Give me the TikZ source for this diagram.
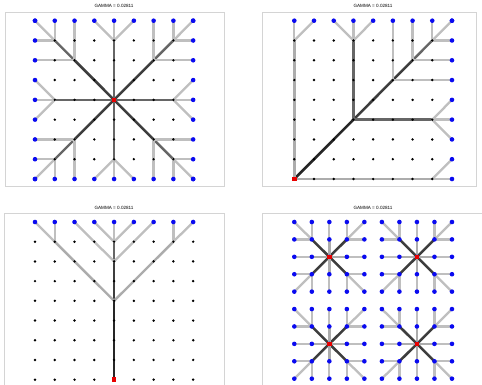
\documentclass[tikz,border=0pt]{standalone}
\usepackage{fontspec}
\setmainfont{Liberation Sans}
\usetikzlibrary{calc}
\definecolor{Sink}{HTML}{0A0AF0}
\definecolor{Source}{HTML}{E80000}
\definecolor{Frame}{HTML}{D4D4D4}
\tikzset{
  grid dot/.style={circle,fill=black,inner sep=0pt,minimum size=2.7pt},
  sink dot/.style={circle,fill=Sink,inner sep=0pt,minimum size=4.6pt},
  source dot/.style={rectangle,fill=Source,inner sep=0pt,minimum size=4.4pt},
  flow one/.style={line width=2.3pt,gray!50,line cap=round},
  flow two/.style={line width=2.4pt,gray!65,line cap=round},
  flow three/.style={line width=2.4pt,black!60,line cap=round},
  flow five/.style={line width=2.5pt,black!76,line cap=round},
  flow many/.style={line width=2.6pt,black!85,line cap=round},
  panel/.style={Frame,line width=0.9pt},
  gamma/.style={font=\fontsize{4.6}{5}\selectfont}
}

\begin{document}
\begin{tikzpicture}[x=1pt,y=-1pt]
  \useasboundingbox (0,0) rectangle (482,385);
  \foreach \c in {0,...,8}
    \foreach \r in {0,...,8}{
      \coordinate (a-\c-\r) at ({35+19.77*\c},{20.7+19.79*\r});
      \coordinate (b-\c-\r) at ({294.3+19.71*\c},{20.7+19.79*\r});
      \coordinate (c-\c-\r) at ({35+19.77*\c},{222+19.71*\r});
    }
  \foreach \c in {0,...,9}
    \foreach \r in {0,...,9}
      \coordinate (d-\c-\r) at ({294.3+17.52*\c},{222+17.41*\r});

  \draw[panel] (5,12.7) rectangle (224,186.7);
  \draw[panel] (262.7,12.7) rectangle (476,186.7);
  \draw[panel] (4.3,213.7) rectangle (224,392);
  \draw[panel] (262.7,213.7) rectangle (490,392);
  \node[gamma] (title-a) at (114,6) {GAMMA = 0.02811};
  \node[gamma] (title-b) at (373,6) {GAMMA = 0.02811};
  \node[gamma] (title-c) at (114,207.5) {GAMMA = 0.02811};
  \node[gamma] (title-d) at (373,207.5) {GAMMA = 0.02811};

  % star from the centre
  \foreach \u/\v in {a-4-4/a-2-2,a-4-4/a-6-2,a-4-4/a-2-6,a-4-4/a-6-6}
    \draw[flow five] (\u) -- (\v);
  \foreach \u/\v in {a-2-2/a-1-1,a-6-2/a-7-1,a-2-6/a-1-7,a-6-6/a-7-7,
                     a-4-4/a-4-1,a-4-4/a-4-7,a-4-4/a-1-4,a-4-4/a-7-4}
    \draw[flow three] (\u) -- (\v);
  \foreach \u/\v in {a-1-1/a-0-0,a-1-1/a-1-0,a-1-1/a-0-1,a-2-2/a-2-0,a-2-2/a-0-2,
                     a-7-1/a-8-0,a-7-1/a-7-0,a-7-1/a-8-1,a-6-2/a-6-0,a-6-2/a-8-2,
                     a-1-7/a-0-8,a-1-7/a-1-8,a-1-7/a-0-7,a-2-6/a-2-8,a-2-6/a-0-6,
                     a-7-7/a-8-8,a-7-7/a-7-8,a-7-7/a-8-7,a-6-6/a-6-8,a-6-6/a-8-6,
                     a-4-1/a-3-0,a-4-1/a-4-0,a-4-1/a-5-0,a-4-7/a-3-8,a-4-7/a-4-8,a-4-7/a-5-8,
                     a-1-4/a-0-3,a-1-4/a-0-4,a-1-4/a-0-5,a-7-4/a-8-3,a-7-4/a-8-4,a-7-4/a-8-5}
    \draw[flow one] (\u) -- (\v);

  % from the corner
  \draw[flow many] (b-0-8) -- (b-3-5);
  \foreach \u/\v in {b-3-5/b-5-3,b-5-3/b-6-2}
    \draw[flow five] (\u) -- (\v);
  \foreach \u/\v in {b-3-5/b-3-1,b-3-5/b-7-5,b-6-2/b-7-1}
    \draw[flow three] (\u) -- (\v);
  \foreach \u/\v in {b-0-8/b-0-1,b-0-8/b-7-8}
    \draw[flow two] (\u) -- (\v);
  \foreach \u/\v in {b-0-1/b-0-0,b-0-1/b-1-0,b-7-8/b-8-8,b-7-8/b-8-7,
                     b-3-1/b-2-0,b-3-1/b-3-0,b-3-1/b-4-0,b-7-5/b-8-4,b-7-5/b-8-5,b-7-5/b-8-6,
                     b-5-3/b-5-0,b-5-3/b-8-3,b-6-2/b-6-0,b-6-2/b-8-2,
                     b-7-1/b-7-0,b-7-1/b-8-1,b-7-1/b-8-0}
    \draw[flow one] (\u) -- (\v);

  % from the bottom
  \draw[flow many] (c-4-8) -- (c-4-4);
  \draw[flow five] (c-4-4) -- (c-4-2);
  \draw[flow three] (c-4-2) -- (c-4-1);
  \foreach \u/\v in {c-4-4/c-1-1,c-4-4/c-7-1}
    \draw[flow two] (\u) -- (\v);
  \foreach \u/\v in {c-1-1/c-0-0,c-1-1/c-1-0,c-7-1/c-8-0,c-7-1/c-7-0,c-4-2/c-2-0,c-4-2/c-6-0,
                     c-4-1/c-3-0,c-4-1/c-4-0,c-4-1/c-5-0}
    \draw[flow one] (\u) -- (\v);

  % four small stars
  \foreach \ox/\oy in {0/0,5/0,0/5,5/5}{
    \foreach \i/\j/\k/\l in {2/2/1/1,2/2/3/1,2/2/1/3,2/2/3/3}{
      \pgfmathtruncatemacro\p{\ox+\i}\pgfmathtruncatemacro\q{\oy+\j}
      \pgfmathtruncatemacro\s{\ox+\k}\pgfmathtruncatemacro\t{\oy+\l}
      \draw[flow five] (d-\p-\q) -- (d-\s-\t);
    }
    \foreach \i/\j/\k/\l in {2/2/1/2,2/2/3/2,2/2/2/1,2/2/2/3}{
      \pgfmathtruncatemacro\p{\ox+\i}\pgfmathtruncatemacro\q{\oy+\j}
      \pgfmathtruncatemacro\s{\ox+\k}\pgfmathtruncatemacro\t{\oy+\l}
      \draw[flow two] (d-\p-\q) -- (d-\s-\t);
    }
    \foreach \i/\j/\k/\l in {1/2/0/2,3/2/4/2,2/1/2/0,2/3/2/4,
                             1/1/0/0,1/1/1/0,1/1/0/1,3/1/4/0,3/1/3/0,3/1/4/1,
                             1/3/0/4,1/3/1/4,1/3/0/3,3/3/4/4,3/3/3/4,3/3/4/3}{
      \pgfmathtruncatemacro\p{\ox+\i}\pgfmathtruncatemacro\q{\oy+\j}
      \pgfmathtruncatemacro\s{\ox+\k}\pgfmathtruncatemacro\t{\oy+\l}
      \draw[flow one] (d-\p-\q) -- (d-\s-\t);
    }
  }

  % dots
  \foreach \c in {0,...,8}
    \foreach \r in {0,...,8}{
      \node[grid dot] (na-\c-\r) at (a-\c-\r) {};
      \node[grid dot] (nb-\c-\r) at (b-\c-\r) {};
      \node[grid dot] (nc-\c-\r) at (c-\c-\r) {};
    }
  \foreach \k in {0,...,8}{
    \node[sink dot] (sa-\k-0) at (a-\k-0) {};
    \node[sink dot] (sa-\k-8) at (a-\k-8) {};
    \node[sink dot] (sa-0-\k) at (a-0-\k) {};
    \node[sink dot] (sa-8-\k) at (a-8-\k) {};
    \node[sink dot] (sb-\k-0) at (b-\k-0) {};
    \node[sink dot] (sb-8-\k) at (b-8-\k) {};
    \node[sink dot] (sc-\k-0) at (c-\k-0) {};
  }
  \foreach \c in {0,...,9}
    \foreach \r in {0,...,9}
      \node[sink dot] (sd-\c-\r) at (d-\c-\r) {};
  \node[source dot] (root-a) at (a-4-4) {};
  \node[source dot] (root-b) at (b-0-8) {};
  \node[source dot] (root-c) at (c-4-8) {};
  \foreach \c/\r in {2/2,7/2,2/7,7/7}
    \node[source dot] (root-d-\c-\r) at (d-\c-\r) {};
\end{tikzpicture}
\end{document}
